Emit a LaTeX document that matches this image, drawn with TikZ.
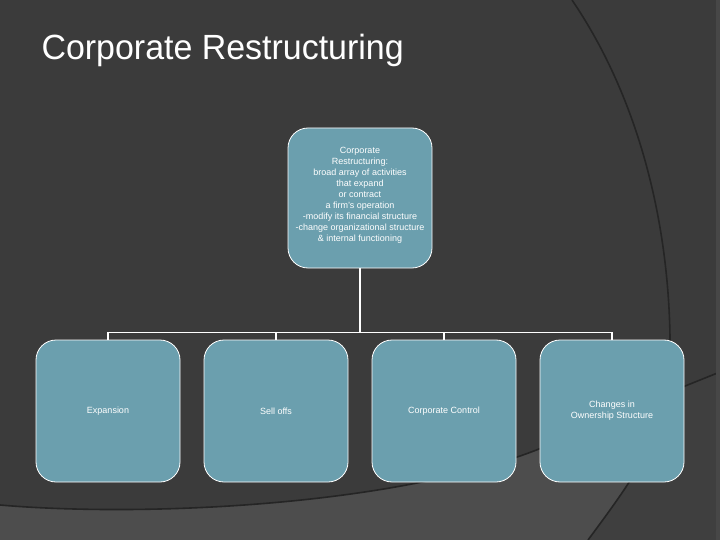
\documentclass[tikz,border=0pt]{standalone}
\usepackage{fontspec}
\setmainfont{Liberation Sans}
\newfontfamily\titlefont[FakeStretch=0.97]{Liberation Sans}
\usetikzlibrary{positioning, calc}
\definecolor{cbg}{HTML}{3B3B3B}
\definecolor{cband}{HTML}{4D4D4D}
\definecolor{cside}{HTML}{3F3F3F}
\definecolor{cstrip}{HTML}{474747}
\definecolor{cline}{HTML}{252525}
\definecolor{cteal}{HTML}{6B9FAE}
\tikzset{
  every picture/.style={line width=1pt},
  box/.style={draw=white, fill=cteal, text=white, rounded corners=20pt, align=center,
    inner sep=0pt, minimum width=144pt, minimum height=142pt, line width=0.8pt,
    font=\fontsize{9}{11}\selectfont},
  link/.style={draw=white, line width=1.6pt},
  title/.style={text=white, anchor=base west, inner sep=0pt, font=\titlefont\fontsize{35}{42}\selectfont},
  curve/.style={draw=cline, line width=1.6pt},
}

\begin{document}
\begin{tikzpicture}[x=1pt, y=-1pt]
  \useasboundingbox (0,0) rectangle (720,540);
  % background
  \fill[cbg] (0,0) rectangle (720,540);
  \fill[cband] (0,505) .. controls (150,518) and (420,505) .. (560,440)
    .. controls (620,412) and (680,388) .. (720,372) -- (720,540) -- (0,540) -- cycle;
  \begin{scope}
    \clip (0,505) .. controls (150,518) and (420,505) .. (560,440)
      .. controls (620,412) and (680,388) .. (720,372) -- (720,540) -- (0,540) -- cycle;
    \fill[cside] (572,0) .. controls (640,100) and (672,230) .. (670,360)
      .. controls (668,430) and (640,470) .. (588,540) -- (720,540) -- (720,0) -- cycle;
  \end{scope}
  \draw[curve] (0,505) .. controls (150,518) and (420,505) .. (560,440)
    .. controls (620,412) and (680,388) .. (720,372);
  \draw[curve] (572,0) .. controls (640,100) and (672,230) .. (670,360)
    .. controls (668,430) and (640,470) .. (588,540);
  \fill[cstrip] (716,0) rectangle (720,540);

  \node[title] (ttl) at (41,60) {Corporate Restructuring};

  \node[box, minimum height=140pt] (top) at (360,198) {Corporate\\Restructuring:\\broad array of activities\\that expand\\or contract\\a firm's operation\\-modify its financial structure\\-change organizational structure\\\& internal functioning\\[-3pt]};
  \node[box] (exp) at (108,411) {Expansion};
  \node[box] (sell) at (276,411) {Sell offs};
  \node[box] (ctrl) at (444,411) {Corporate Control};
  \node[box] (own) at (612,411) {Changes in\\Ownership Structure};
  \draw[link] (top.south) -- ++(0,64) coordinate (fork);
  \foreach \n in {exp,sell,ctrl,own} \draw[link] (fork) -| (\n.north);
\end{tikzpicture}
\end{document}
